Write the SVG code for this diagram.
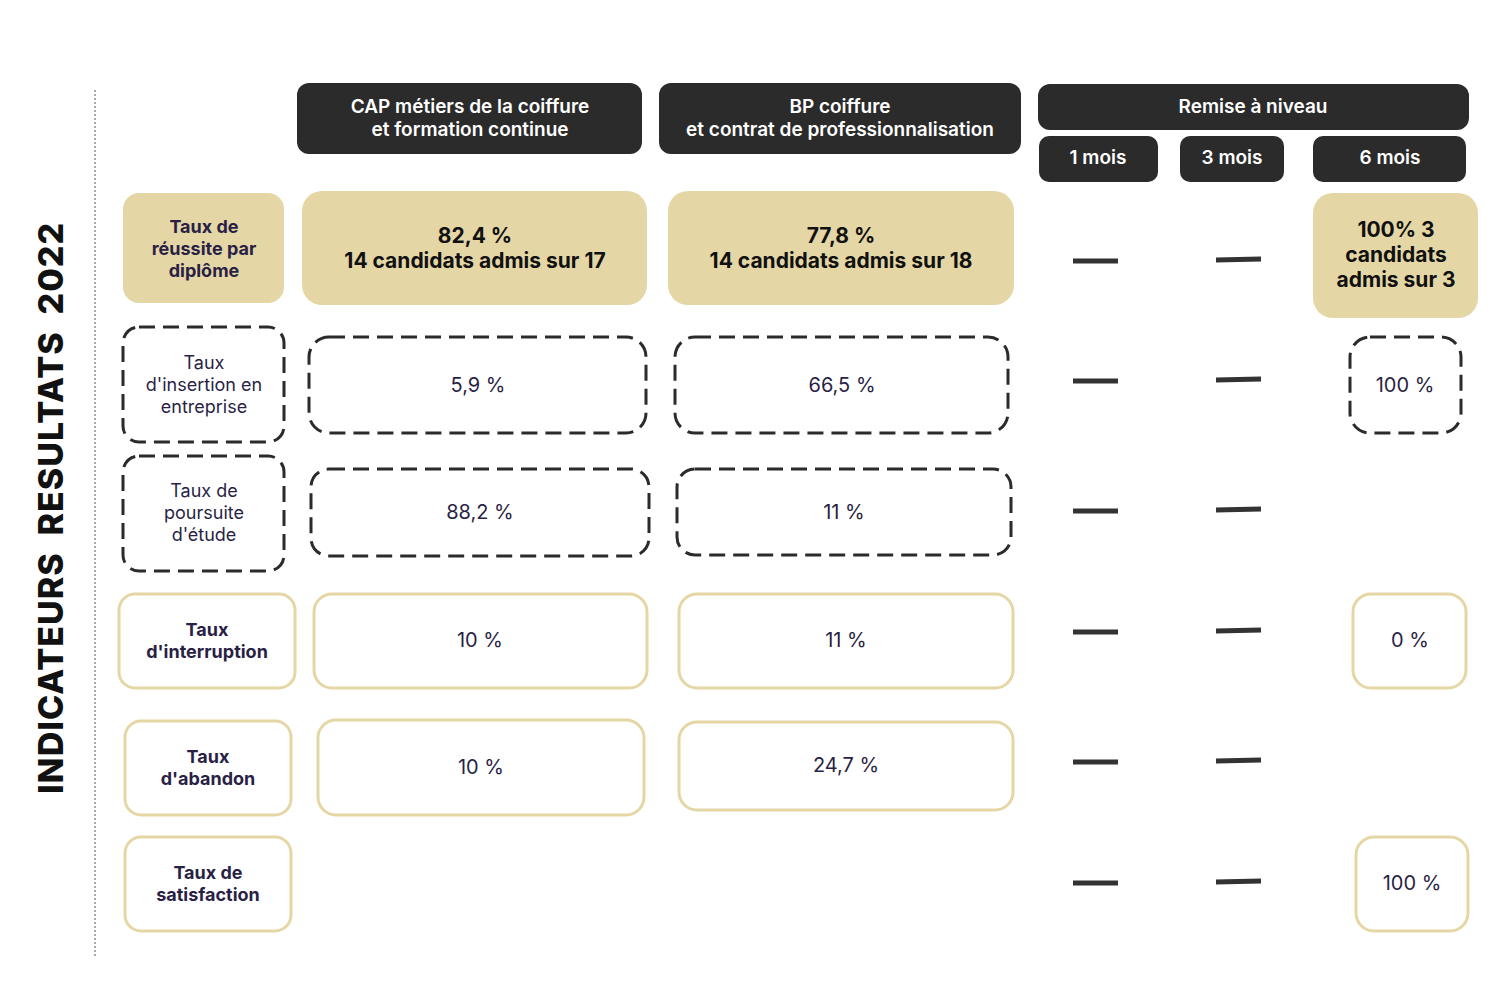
<svg xmlns="http://www.w3.org/2000/svg" width="1500" height="1000" viewBox="0 0 1500 1000">
<style>
text{font-family:"Inter","Liberation Sans",sans-serif;text-anchor:middle}
.hd{fill:#2b2b2b}
.ht{fill:#fff;font-size:19px;font-weight:600}
.tan{fill:#e5d7a5}
.dash{fill:#fff;stroke:#2b2b2b;stroke-width:3;stroke-dasharray:16 8}
.tb{fill:#fff;stroke:#e5d7a5;stroke-width:3}
.lb{fill:#2a1f45;font-size:18px;font-weight:700}
.ln{fill:#2a1f45;font-size:18px}
.vb{fill:#111;font-size:21px;font-weight:700}
.vn{fill:#2a1f45;font-size:20px}
.nd{stroke:#333;stroke-width:5}
</style>
<line x1="95" y1="90" x2="95" y2="957" stroke="#555" stroke-width="1" stroke-dasharray="2 2"/>
<text transform="translate(63,508) rotate(-90)" style="font-size:34px;font-weight:800;fill:#111;letter-spacing:1px" xml:space="preserve">INDICATEURS  RESULTATS  2022</text>
<g id="h-cap"><rect class="hd" x="297" y="83" width="345" height="71" rx="12"/><text class="ht" x="470" y="113">CAP métiers de la coiffure</text><text class="ht" x="470" y="136">et formation continue</text></g>
<g id="h-bp"><rect class="hd" x="659" y="83" width="362" height="71" rx="12"/><text class="ht" x="840" y="113">BP coiffure</text><text class="ht" x="840" y="136">et contrat de professionnalisation</text></g>
<g id="h-rn"><rect class="hd" x="1038" y="84" width="431" height="46" rx="12"/><text class="ht" x="1253" y="113">Remise à niveau</text></g>
<g id="h-1"><rect class="hd" x="1039" y="136" width="119" height="46" rx="10"/><text class="ht" x="1098" y="164">1 mois</text></g>
<g id="h-3"><rect class="hd" x="1180" y="136" width="104" height="46" rx="10"/><text class="ht" x="1232" y="164">3 mois</text></g>
<g id="h-6"><rect class="hd" x="1313" y="136" width="153" height="46" rx="10"/><text class="ht" x="1390" y="164">6 mois</text></g>

<g id="r1-l"><rect class="tan" x="123" y="193" width="161" height="110" rx="16"/><text class="lb" x="204" y="233">Taux de</text><text class="lb" x="204" y="255">réussite par</text><text class="lb" x="204" y="277">diplôme</text></g>
<g id="r1-cap"><rect class="tan" x="302" y="191" width="345" height="114" rx="20"/><text class="vb" x="475" y="243">82,4 %</text><text class="vb" x="475" y="268">14 candidats admis sur 17</text></g>
<g id="r1-bp"><rect class="tan" x="668" y="191" width="346" height="114" rx="20"/><text class="vb" x="841" y="243">77,8 %</text><text class="vb" x="841" y="268">14 candidats admis sur 18</text></g>
<g id="r1-6"><rect class="tan" x="1313" y="193" width="165" height="125" rx="20"/><text class="vb" x="1396" y="237">100% 3</text><text class="vb" x="1396" y="262">candidats</text><text class="vb" x="1396" y="287">admis sur 3</text></g>

<g id="r2-l"><rect class="dash" x="123" y="327" width="161" height="115" rx="16"/><text class="ln" x="204" y="369">Taux</text><text class="ln" x="204" y="391">d'insertion en</text><text class="ln" x="204" y="413">entreprise</text></g>
<g id="r2-cap"><rect class="dash" x="309" y="337" width="337" height="96" rx="20"/><text class="vn" x="478" y="392">5,9 %</text></g>
<g id="r2-bp"><rect class="dash" x="675" y="337" width="333" height="96" rx="20"/><text class="vn" x="842" y="392">66,5 %</text></g>
<g id="r2-6"><rect class="dash" x="1350" y="337" width="111" height="96" rx="20"/><text class="vn" x="1405" y="392">100 %</text></g>

<g id="r3-l"><rect class="dash" x="123" y="456" width="161" height="115" rx="16"/><text class="ln" x="204" y="497">Taux de</text><text class="ln" x="204" y="519">poursuite</text><text class="ln" x="204" y="541">d'étude</text></g>
<g id="r3-cap"><rect class="dash" x="311" y="469" width="338" height="87" rx="18"/><text class="vn" x="480" y="519">88,2 %</text></g>
<g id="r3-bp"><rect class="dash" x="677" y="469" width="334" height="86" rx="18"/><text class="vn" x="844" y="519">11 %</text></g>

<g id="r4-l"><rect class="tb" x="119" y="594" width="176" height="94" rx="16"/><text class="lb" x="207" y="636">Taux</text><text class="lb" x="207" y="658">d'interruption</text></g>
<g id="r4-cap"><rect class="tb" x="314" y="594" width="333" height="94" rx="18"/><text class="vn" x="480" y="647">10 %</text></g>
<g id="r4-bp"><rect class="tb" x="679" y="594" width="334" height="94" rx="18"/><text class="vn" x="846" y="647">11 %</text></g>
<g id="r4-6"><rect class="tb" x="1353" y="594" width="113" height="94" rx="18"/><text class="vn" x="1410" y="647">0 %</text></g>

<g id="r5-l"><rect class="tb" x="125" y="721" width="166" height="94" rx="16"/><text class="lb" x="208" y="763">Taux</text><text class="lb" x="208" y="785">d'abandon</text></g>
<g id="r5-cap"><rect class="tb" x="318" y="720" width="326" height="95" rx="18"/><text class="vn" x="481" y="774">10 %</text></g>
<g id="r5-bp"><rect class="tb" x="679" y="722" width="334" height="88" rx="18"/><text class="vn" x="846" y="772">24,7 %</text></g>

<g id="r6-l"><rect class="tb" x="125" y="837" width="166" height="94" rx="16"/><text class="lb" x="208" y="879">Taux de</text><text class="lb" x="208" y="901">satisfaction</text></g>
<g id="r6-6"><rect class="tb" x="1356" y="837" width="112" height="94" rx="18"/><text class="vn" x="1412" y="890">100 %</text></g>

<g id="dashes">
<line class="nd" x1="1073" y1="261" x2="1118" y2="261"/><line class="nd" x1="1216" y1="260" x2="1261" y2="259"/>
<line class="nd" x1="1073" y1="381" x2="1118" y2="381"/><line class="nd" x1="1216" y1="380" x2="1261" y2="379"/>
<line class="nd" x1="1073" y1="511" x2="1118" y2="511"/><line class="nd" x1="1216" y1="510" x2="1261" y2="509"/>
<line class="nd" x1="1073" y1="632" x2="1118" y2="632"/><line class="nd" x1="1216" y1="631" x2="1261" y2="630"/>
<line class="nd" x1="1073" y1="762" x2="1118" y2="762"/><line class="nd" x1="1216" y1="761" x2="1261" y2="760"/>
<line class="nd" x1="1073" y1="883" x2="1118" y2="883"/><line class="nd" x1="1216" y1="882" x2="1261" y2="881"/>
</g>
</svg>
